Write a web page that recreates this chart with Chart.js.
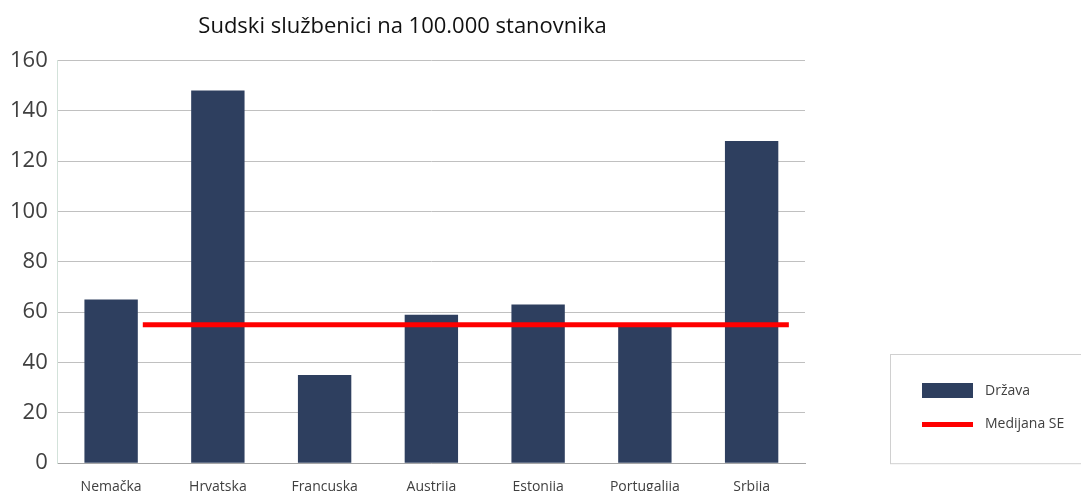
<!DOCTYPE html>
<html>
<head>
<meta charset="utf-8">
<script src="https://cdn.jsdelivr.net/npm/chart.js@4"></script>
<style>
  html, body { margin: 0; padding: 0; background: #fff; overflow: hidden; }
  canvas { display: block; }
</style>
</head>
<body>
<canvas id="chart" width="1081" height="510"></canvas>
<script>
// Data
const countries = ['Nemačka', 'Hrvatska', 'Francuska', 'Austrija', 'Estonija', 'Portugalija', 'Srbija'];
const stateValues = [65, 148, 35, 59, 63, 55, 128];
const medianValues = [55, 55, 55, 55, 55, 55, 55];
const yTicks = [0, 20, 40, 60, 80, 100, 120, 140, 160];

const barColor = '#2e3f5f';
const lineColor = '#ff0000';
const fontFamily = '"Open Sans", "Noto Sans", sans-serif';

// Legend drawn in a framed box at the lower right
const boxLegend = {
    id: 'boxLegend',
    afterDraw(chart) {
        const ctx = chart.ctx;
        const area = chart.chartArea;
        const left = 890, top = 354, bottom = area.bottom;
        ctx.save();
        ctx.strokeStyle = '#d0d0d0';
        ctx.lineWidth = 1;
        ctx.strokeRect(left + 0.5, top + 0.5, 1081 - left + 10, bottom - top);

        const ds = chart.data.datasets;
        ctx.font = '14px ' + fontFamily;
        ctx.textBaseline = 'middle';

        // bar entry
        ctx.fillStyle = ds[0].backgroundColor;
        ctx.fillRect(922, 383, 51, 15);
        ctx.fillStyle = '#404040';
        ctx.fillText(ds[0].label, 985, 391);

        // line entry
        ctx.strokeStyle = ds[1].borderColor;
        ctx.lineWidth = 5;
        ctx.beginPath();
        ctx.moveTo(922, 424.5);
        ctx.lineTo(973, 424.5);
        ctx.stroke();
        ctx.fillText(ds[1].label, 985, 424);
        ctx.restore();
    }
};

window.onload = function() {
    const ctx = document.getElementById('chart').getContext('2d');
    new Chart(ctx, {
        type: 'bar',
        data: {
            labels: countries,
            datasets: [{
                label: 'Država',
                data: stateValues,
                backgroundColor: barColor,
                barPercentage: 0.5,
                categoryPercentage: 1.0,
                grouped: false,
                order: 2
            }, {
                type: 'line',
                label: 'Medijana SE',
                data: medianValues.map((v, i) => ({ x: i, y: v })),
                xAxisID: 'x2',
                borderColor: lineColor,
                backgroundColor: lineColor,
                borderWidth: 5,
                pointRadius: 0,
                fill: false,
                order: 1
            }]
        },
        options: {
            responsive: false,
            animation: false,
            layout: {
                padding: { left: 0, right: 276, top: 0, bottom: 0 }
            },
            scales: {
                x: {
                    grid: { display: false, drawTicks: false },
                    border: { color: '#a6a6a6', width: 1 },
                    ticks: {
                        color: '#404040',
                        font: { family: fontFamily, size: 14 },
                        padding: 15
                    }
                },
                x2: {
                    type: 'linear',
                    display: false,
                    offset: false,
                    grace: 0,
                    min: -0.79,
                    max: 6.15
                },
                y: {
                    min: 0,
                    max: 160,
                    afterBuildTicks(axis) {
                        axis.ticks = yTicks.map(v => ({ value: v }));
                    },
                    grid: { color: '#c0c0c0', drawTicks: false },
                    border: { color: '#d3e2da', width: 1 },
                    ticks: {
                        color: '#404040',
                        font: { family: fontFamily, size: 22 },
                        padding: 10
                    }
                }
            },
            plugins: {
                legend: { display: false },
                tooltip: { enabled: false },
                title: {
                    display: true,
                    text: 'Sudski službenici na 100.000 stanovnika',
                    color: '#111111',
                    font: { family: fontFamily, size: 22, weight: 'normal' },
                    padding: { top: 14, bottom: 20 }
                }
            }
        },
        plugins: [boxLegend]
    });
};
</script>
</body>
</html>
